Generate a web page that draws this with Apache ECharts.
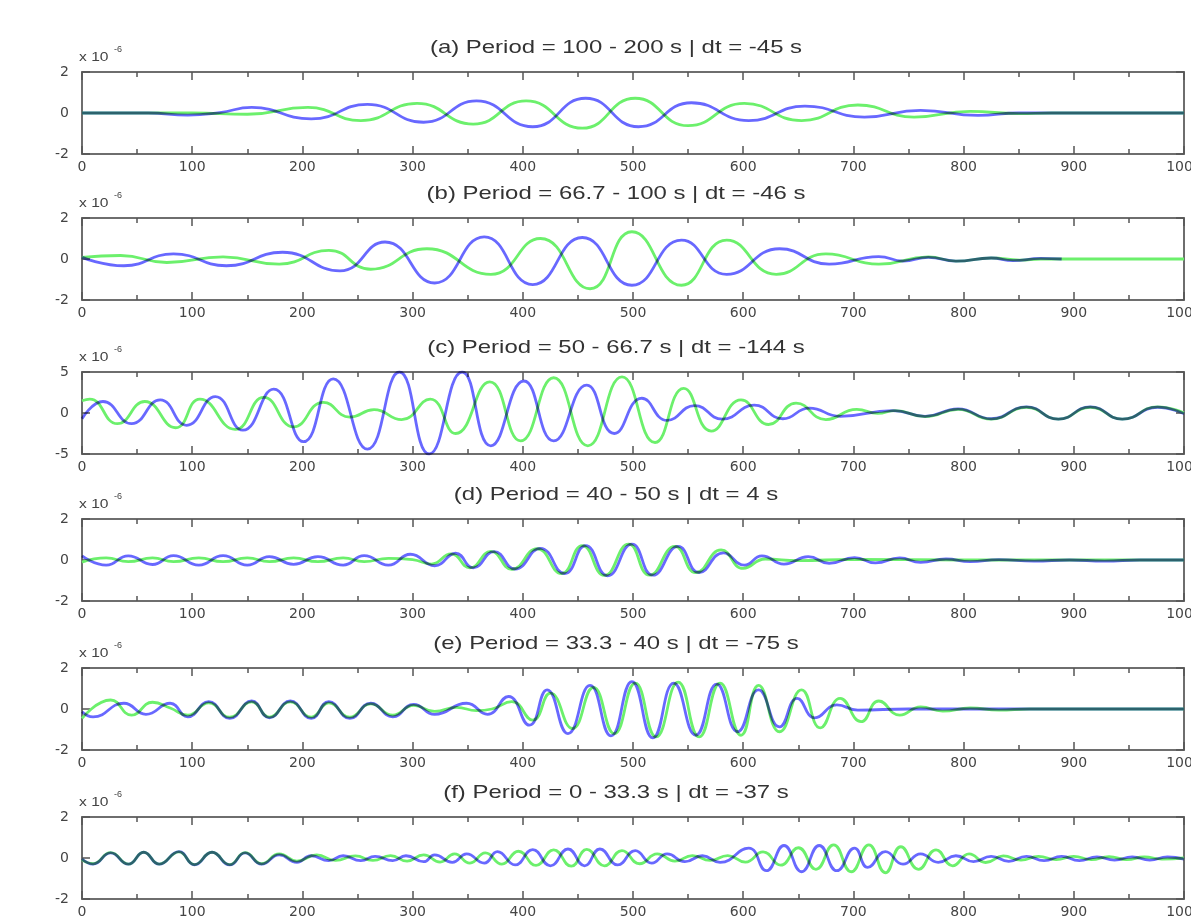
<!DOCTYPE html>
<html><head><meta charset="utf-8">
<script src="https://cdn.jsdelivr.net/npm/echarts@6/dist/echarts.min.js"></script>
<style>html,body{margin:0;padding:0;background:#fff}#c{width:1191px;height:917px}</style>
</head><body><div id="c"></div><script>
// ---------------- data (values in units of 1e-6) ----------------
const titles = [
  '(a) Period = 100 - 200 s | dt = -45 s',
  '(b) Period = 66.7 - 100 s | dt = -46 s',
  '(c) Period = 50 - 66.7 s | dt = -144 s',
  '(d) Period = 40 - 50 s | dt = 4 s',
  '(e) Period = 33.3 - 40 s | dt = -75 s',
  '(f) Period = 0 - 33.3 s | dt = -37 s'
];
const yLimits = [2, 2, 5, 2, 2, 2];
const xRange = [0, 1000];
const xStep = 100;
const scaleBase = 'x 10';
const scaleExp = '-6';

const aBlue = [[0,0],[60,0],[96,-0.1],[125,0.02],[154,0.27],[208,-0.29],[259,0.42],[310,-0.45],[358,0.59],[409,-0.67],[457,0.72],[505,-0.67],[553,0.5],[605,-0.37],[656,0.34],[710,-0.2],[761,0.13],[813,-0.12],[850,0],[1000,0]];
const aGreen = [[0,0],[100,0],[150,-0.06],[205,0.27],[253,-0.37],[304,0.47],[355,-0.54],[403,0.59],[454,-0.74],[502,0.72],[550,-0.62],[601,0.47],[653,-0.37],[704,0.39],[755,-0.2],[806,0.08],[850,-0.03],[880,0],[1000,0]];

const bBlue = [[0,0.08],[38,-0.33],[83,0.25],[131,-0.33],[182,0.33],[234,-0.58],[275,0.83],[320,-1.17],[365,1.08],[409,-1.25],[454,1.05],[499,-1.28],[544,0.92],[585,-0.75],[633,0.5],[678,-0.25],[723,0.12],[745,-0.1],[768,0.08],[793,-0.1],[825,0.05],[845,-0.08],[870,0.03],[889,0]];
const bGreen = [[0,0.08],[35,0.17],[77,-0.17],[128,0.1],[179,-0.25],[224,0.42],[262,-0.5],[313,0.5],[371,-0.75],[416,1.0],[461,-1.45],[499,1.33],[544,-1.28],[585,0.92],[630,-0.75],[675,0.25],[723,-0.25],[768,0.1],[793,-0.1],[825,0.05],[851,-0.05],[870,0],[1000,0]];

const cBlue = [[0,-0.7],[19,1.4],[45,-1.3],[71,1.6],[95,-1.5],[121,2.0],[146,-2.1],[174,2.9],[201,-3.5],[228,4.15],[259,-4.4],[288,5.0],[315,-5.0],[345,5.0],[371,-4.0],[401,3.9],[428,-3.4],[458,3.4],[483,-2.5],[508,1.8],[531,-0.9],[556,0.9],[581,-0.75],[610,0.95],[636,-0.7],[660,0.6],[688,-0.4],[736,0.3],[765,-0.4],[795,0.5],[825,-0.7],[857,0.75],[886,-0.75],[915,0.75],[944,-0.75],[976,0.7],[1000,-0.1]];
const cGreen = [[0,1.5],[7,1.7],[32,-1.3],[57,1.4],[85,-1.8],[107,1.7],[139,-2.0],[165,1.9],[192,-1.7],[219,1.3],[243,-0.5],[265,0.4],[290,-0.8],[316,1.7],[339,-2.5],[370,3.8],[398,-3.4],[428,4.3],[459,-4.0],[490,4.4],[520,-3.6],[546,3.0],[571,-2.2],[598,1.6],[623,-1.4],[648,1.2],[675,-0.8],[703,0.45],[722,-0.05],[738,0.3],[765,-0.45],[795,0.45],[825,-0.75],[857,0.7],[886,-0.75],[915,0.7],[944,-0.75],[976,0.75],[1000,0]];

const dBlue = [[0,0.2],[22,-0.25],[42,0.2],[64,-0.22],[83,0.21],[106,-0.25],[128,0.21],[150,-0.25],[170,0.16],[192,-0.21],[214,0.16],[237,-0.25],[256,0.21],[278,-0.25],[298,0.28],[320,-0.28],[339,0.33],[355,-0.38],[374,0.41],[393,-0.44],[416,0.57],[438,-0.66],[457,0.7],[477,-0.77],[499,0.77],[518,-0.74],[541,0.66],[560,-0.61],[582,0.35],[601,-0.25],[617,0.2],[637,-0.2],[659,0.16],[678,-0.16],[701,0.12],[720,-0.14],[742,0.1],[761,-0.12],[784,0.05],[806,-0.08],[832,0.02],[864,-0.05],[896,0],[928,-0.05],[960,0],[1000,0]];
const dGreen = [[0,-0.1],[22,0.1],[42,-0.08],[64,0.1],[83,-0.08],[106,0.1],[128,-0.08],[150,0.1],[170,-0.08],[192,0.1],[214,-0.08],[237,0.1],[256,-0.08],[278,0.08],[300,0.02],[317,-0.2],[335,0.3],[352,-0.38],[371,0.42],[390,-0.45],[413,0.55],[435,-0.66],[454,0.7],[474,-0.75],[496,0.77],[515,-0.74],[538,0.66],[557,-0.62],[580,0.49],[600,-0.41],[620,0.05],[650,-0.03],[700,0.03],[800,0],[1000,0]];

const eBlue = [[0,-0.13],[10,-0.38],[38,0.28],[58,-0.26],[80,0.28],[96,-0.38],[115,0.36],[134,-0.46],[154,0.39],[170,-0.43],[189,0.39],[208,-0.46],[224,0.36],[243,-0.46],[262,0.28],[282,-0.38],[301,0.23],[320,-0.26],[349,0.28],[368,-0.26],[387,0.61],[406,-0.79],[422,0.93],[441,-1.2],[461,1.15],[480,-1.31],[499,1.34],[518,-1.41],[537,1.26],[557,-1.28],[576,1.21],[595,-1.11],[614,0.93],[633,-0.87],[649,0.52],[665,-0.43],[685,0.2],[704,-0.05],[750,0],[1000,0]];
const eGreen = [[0,-0.46],[26,0.44],[45,-0.3],[64,0.33],[80,0.05],[96,-0.3],[115,0.3],[134,-0.4],[154,0.35],[170,-0.4],[189,0.35],[208,-0.4],[224,0.3],[243,-0.4],[262,0.25],[282,-0.3],[301,0.18],[320,-0.12],[340,0.08],[358,-0.08],[372,0.0],[390,0.36],[409,-0.54],[425,0.77],[445,-0.95],[464,1.05],[483,-1.2],[502,1.26],[521,-1.36],[541,1.31],[560,-1.36],[579,1.26],[598,-1.28],[614,1.15],[633,-1.11],[653,0.93],[670,-0.92],[688,0.52],[707,-0.62],[723,0.39],[742,-0.3],[761,0.1],[781,-0.1],[806,0.05],[832,-0.05],[860,0],[1000,0]];

const fBlue = [[0,-0.05],[10,-0.3],[26,0.25],[42,-0.3],[56,0.28],[70,-0.3],[88,0.31],[102,-0.33],[118,0.28],[134,-0.34],[148,0.25],[163,-0.3],[179,0.15],[195,-0.21],[208,0.11],[224,-0.13],[237,0.11],[253,-0.13],[266,0.08],[282,-0.13],[294,0.11],[310,-0.18],[320,0.15],[336,-0.21],[349,0.2],[365,-0.25],[377,0.31],[393,-0.34],[409,0.41],[425,-0.38],[441,0.44],[456,-0.38],[470,0.44],[486,-0.34],[502,0.36],[517,-0.25],[531,0.2],[547,-0.18],[563,0.11],[579,-0.21],[605,0.48],[621,-0.62],[637,0.61],[653,-0.67],[669,0.61],[685,-0.62],[701,0.48],[713,-0.46],[729,0.31],[745,-0.3],[761,0.2],[777,-0.21],[793,0.11],[809,-0.18],[825,0.08],[841,-0.16],[857,0.08],[873,-0.13],[889,0.08],[905,-0.13],[921,0.05],[937,-0.1],[953,0.05],[969,-0.1],[985,0.05],[1000,-0.05]];
const fGreen = [[0,-0.08],[10,-0.28],[26,0.26],[42,-0.3],[56,0.28],[70,-0.3],[88,0.3],[102,-0.32],[118,0.28],[134,-0.32],[148,0.26],[163,-0.28],[179,0.2],[195,-0.15],[213,0.15],[230,-0.12],[248,0.1],[264,-0.12],[280,0.12],[295,-0.15],[310,0.15],[325,-0.2],[338,0.2],[352,-0.25],[366,0.25],[381,-0.3],[396,0.33],[412,-0.36],[428,0.4],[444,-0.4],[458,0.42],[474,-0.38],[490,0.36],[506,-0.28],[522,0.2],[538,-0.15],[554,0.12],[570,-0.12],[586,0.12],[602,-0.2],[618,0.3],[634,-0.35],[650,0.5],[666,-0.55],[682,0.64],[698,-0.67],[714,0.64],[729,-0.72],[743,0.55],[759,-0.55],[775,0.4],[790,-0.38],[805,0.2],[820,-0.22],[836,0.1],[852,-0.1],[868,0.08],[884,-0.08],[900,0.08],[916,-0.08],[932,0.06],[948,-0.08],[964,0.05],[980,-0.05],[1000,0]];

const blueSeries = [aBlue, bBlue, cBlue, dBlue, eBlue, fBlue];
const greenSeries = [aGreen, bGreen, cGreen, dGreen, eGreen, fGreen];

// ---------------- layout / style ----------------
const tops = [72, 218, 372, 519, 668, 817];
const H = 82, LEFT = 82, RIGHT = 7;
const BLUE = '#6868ff', GREEN = '#6cf06c';
const frame = '#6e6e6e', tickC = '#555';

const grid = [], xAxis = [], yAxis = [], series = [], graphic = [];
titles.forEach((t, i) => {
  const lim = yLimits[i];
  grid.push({left: LEFT, right: RIGHT, top: tops[i], height: H, show: false, containLabel: false, outerBoundsMode: 'none'});
  const axLine = {show: true, onZero: false, lineStyle: {color: frame, width: 2}};
  const tick = {show: true, inside: true, length: 8, lineStyle: {color: tickC, width: 1.5}};
  const minor = {show: true, splitNumber: 2, length: 5, lineStyle: {color: tickC, width: 1.5}};
  const lbl = {fontFamily: 'DejaVu Sans', fontSize: 14, color: '#444', formatter: v => String(v)};
  xAxis.push({type: 'value', gridIndex: i, position: 'bottom', min: xRange[0], max: xRange[1], interval: xStep,
    axisLine: axLine, axisTick: tick, minorTick: minor, splitLine: {show: false}, minorSplitLine: {show: false},
    axisLabel: Object.assign({margin: 6, alignMinLabel: 'center', alignMaxLabel: 'center', hideOverlap: false}, lbl)});
  xAxis.push({type: 'value', gridIndex: i, position: 'top', min: xRange[0], max: xRange[1], interval: xStep,
    axisLine: axLine, axisTick: tick, minorTick: minor, splitLine: {show: false}, minorSplitLine: {show: false},
    axisLabel: {show: false}});
  yAxis.push({type: 'value', gridIndex: i, position: 'left', min: -lim, max: lim, interval: lim,
    axisLine: axLine, axisTick: tick, splitLine: {show: false}, axisLabel: Object.assign({margin: 13}, lbl)});
  yAxis.push({type: 'value', gridIndex: i, position: 'right', min: -lim, max: lim, interval: lim,
    axisLine: axLine, axisTick: tick, splitLine: {show: false}, axisLabel: {show: false}});
  series.push({type: 'line', xAxisIndex: 2 * i, yAxisIndex: 2 * i, data: greenSeries[i], smooth: 0.5,
    showSymbol: false, silent: true, lineStyle: {color: GREEN, width: 2.8}, z: 2});
  series.push({type: 'line', xAxisIndex: 2 * i, yAxisIndex: 2 * i, data: blueSeries[i], smooth: 0.5,
    showSymbol: false, silent: true, blendMode: 'multiply', lineStyle: {color: BLUE, width: 2.8}, z: 3});
  graphic.push({type: 'text', x: 616, y: tops[i] - 24, scaleX: 1.26,
    style: {text: t, font: '19px "Liberation Sans", Arial, sans-serif', fill: '#333', textAlign: 'center', textVerticalAlign: 'middle'}});
  graphic.push({type: 'text', x: 79, y: tops[i] - 15, scaleX: 1.2,
    style: {text: scaleBase, font: '13px "Liberation Sans", Arial, sans-serif', fill: '#444', textAlign: 'left', textVerticalAlign: 'middle'}});
  graphic.push({type: 'text', x: 114, y: tops[i] - 22,
    style: {text: scaleExp, font: '9px "Liberation Sans", Arial, sans-serif', fill: '#444', textAlign: 'left', textVerticalAlign: 'middle'}});
});

const chart = echarts.init(document.getElementById('c'), null, {renderer: 'canvas'});
chart.setOption({animation: false, backgroundColor: '#fff', grid, xAxis, yAxis, series, graphic});
</script></body></html>
